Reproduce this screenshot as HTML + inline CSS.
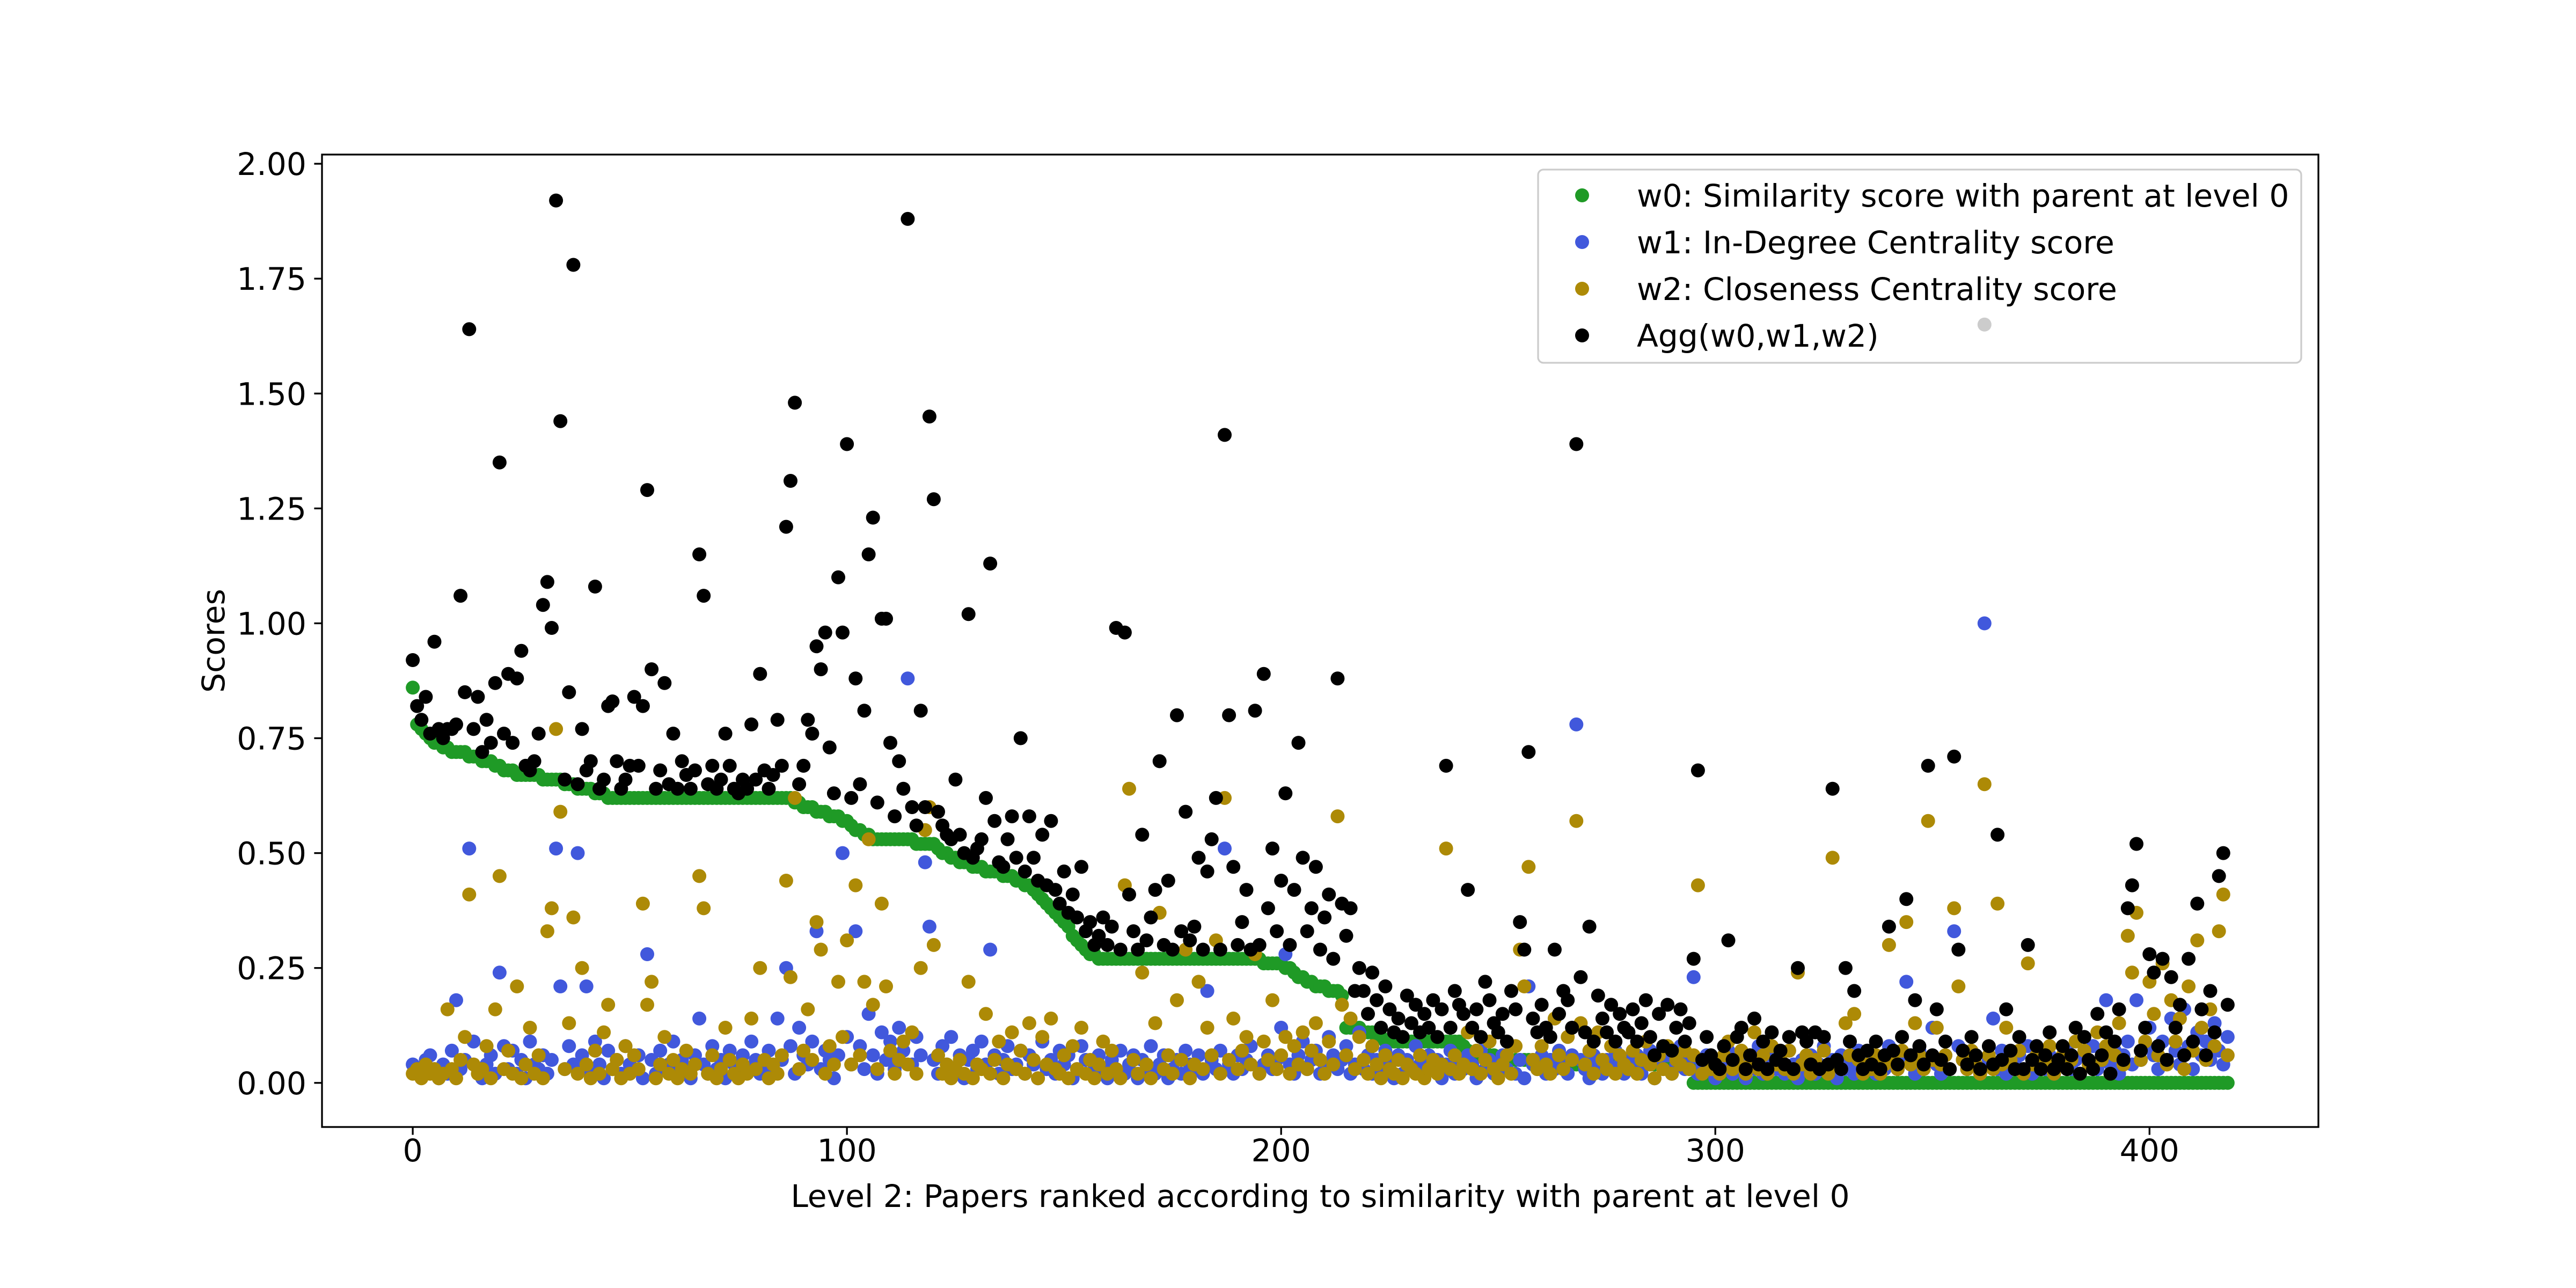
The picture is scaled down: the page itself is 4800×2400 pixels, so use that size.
<!DOCTYPE html>
<html><head><meta charset="utf-8"><style>
html,body{margin:0;padding:0;background:#fff;}
svg{display:block;font-family:"DejaVu Sans","Liberation Sans",sans-serif;}
</style></head><body>
<svg id="chart" width="4800" height="2400" viewBox="0 0 4800 2400" xmlns="http://www.w3.org/2000/svg">
<rect x="0" y="0" width="4800" height="2400" fill="#fff"/>
<g id="marks"></g>
<g id="axes"></g>
<g id="legend"></g>
</svg>
<script>
const xTicks=[0,100,200,300,400];
const yTicks=[0,0.25,0.5,0.75,1.0,1.25,1.5,1.75,2.0];
const yTickLabels=["0.00","0.25","0.50","0.75","1.00","1.25","1.50","1.75","2.00"];
const seriesNames=["w0: Similarity score with parent at level 0","w1: In-Degree Centrality score","w2: Closeness Centrality score","Agg(w0,w1,w2)"];
const w0=[.86,.78,.77,.76,.75,.74,.74,.73,.73,.72,.72,.72,.72,.71,.71,.71,.70,.70,.70,.69,
.69,.68,.68,.68,.67,.67,.67,.67,.67,.67,.66,.66,.66,.66,.66,.65,.65,.65,.64,.64,
.64,.64,.63,.63,.63,.62,.62,.62,.62,.62,.62,.62,.62,.62,.62,.62,.62,.62,.62,.62,
.62,.62,.62,.62,.62,.62,.62,.62,.62,.62,.62,.62,.62,.62,.62,.62,.62,.62,.62,.62,
.62,.62,.62,.62,.62,.62,.62,.62,.61,.61,.60,.60,.60,.59,.59,.59,.58,.58,.58,.57,
.57,.56,.55,.55,.54,.54,.53,.53,.53,.53,.53,.53,.53,.53,.53,.53,.52,.52,.52,.52,
.52,.51,.50,.50,.49,.49,.48,.48,.48,.47,.47,.47,.46,.46,.46,.46,.45,.45,.45,.44,
.44,.43,.43,.42,.41,.40,.39,.38,.37,.36,.35,.34,.32,.31,.30,.29,.28,.28,.27,.27,
.27,.27,.27,.27,.27,.27,.27,.27,.27,.27,.27,.27,.27,.27,.27,.27,.27,.27,.27,.27,
.27,.27,.27,.27,.27,.27,.27,.27,.27,.27,.27,.27,.27,.27,.27,.27,.26,.26,.26,.26,
.26,.25,.25,.24,.23,.23,.22,.22,.21,.21,.21,.20,.20,.20,.19,.12,.12,.12,.12,.11,
.11,.11,.10,.10,.09,.09,.09,.09,.09,.09,.09,.09,.09,.09,.09,.09,.09,.09,.09,.09,
.09,.09,.08,.07,.06,.06,.06,.06,.06,.06,.05,.05,.05,.05,.05,.05,.05,.05,.05,.05,
.05,.05,.05,.05,.05,.04,.04,.04,.04,.04,.04,.04,.04,.04,.04,.04,.04,.04,.04,.04,
.04,.04,.04,.04,.04,.04,.04,.04,.04,.04,.04,.04,.04,.04,.04,0,0,0,0,0,
0,0,0,0,0,0,0,0,0,0,0,0,0,0,0,0,0,0,0,0,
0,0,0,0,0,0,0,0,0,0,0,0,0,0,0,0,0,0,0,0,
0,0,0,0,0,0,0,0,0,0,0,0,0,0,0,0,0,0,0,0,
0,0,0,0,0,0,0,0,0,0,0,0,0,0,0,0,0,0,0,0,
0,0,0,0,0,0,0,0,0,0,0,0,0,0,0,0,0,0,0,0,
0,0,0,0,0,0,0,0,0,0,0,0,0,0,0,0,0,0,0];
const w1=[.04,.03,.02,.05,.06,.03,.01,.04,.02,.07,.18,.03,.05,.51,.09,.03,.01,.04,.06,.02,
.24,.08,.03,.07,.02,.05,.01,.09,.04,.03,.06,.02,.05,.51,.21,.03,.08,.04,.50,.06,
.21,.02,.09,.04,.01,.07,.03,.05,.02,.08,.04,.03,.06,.01,.28,.05,.02,.07,.03,.04,
.09,.02,.05,.03,.01,.06,.14,.04,.02,.08,.03,.05,.01,.07,.04,.02,.06,.03,.09,.05,
.02,.04,.07,.03,.14,.05,.25,.08,.02,.12,.06,.04,.09,.33,.03,.07,.05,.01,.06,.50,
.10,.04,.33,.08,.03,.15,.06,.02,.11,.05,.09,.03,.12,.07,.88,.04,.10,.06,.48,.34,
.05,.02,.08,.04,.10,.03,.06,.01,.05,.07,.03,.09,.04,.29,.06,.02,.05,.08,.03,.04,
.07,.02,.06,.04,.01,.09,.03,.05,.02,.07,.04,.06,.01,.03,.08,.05,.02,.04,.06,.03,
.01,.05,.03,.07,.02,.04,.06,.01,.05,.03,.08,.02,.04,.06,.01,.03,.05,.02,.07,.04,
.03,.06,.02,.20,.05,.03,.07,.51,.04,.02,.06,.03,.05,.08,.29,.02,.04,.06,.03,.05,
.12,.28,.04,.02,.06,.09,.03,.05,.07,.02,.04,.10,.06,.03,.05,.08,.02,.04,.11,.03,
.06,.02,.05,.03,.07,.04,.01,.06,.02,.05,.03,.08,.04,.02,.06,.03,.05,.01,.04,.07,
.02,.05,.03,.06,.04,.01,.07,.03,.05,.02,.04,.06,.03,.08,.02,.05,.01,.21,.04,.03,
.06,.02,.05,.03,.07,.04,.02,.06,.78,.05,.03,.01,.06,.04,.02,.05,.03,.07,.04,.02,
.05,.03,.06,.02,.04,.07,.01,.05,.03,.06,.02,.04,.08,.03,.05,.23,.02,.04,.06,.03,
.01,.05,.03,.07,.02,.04,.06,.01,.05,.03,.08,.02,.04,.06,.03,.05,.02,.07,.04,.01,
.05,.03,.06,.02,.04,.08,.03,.05,.01,.06,.03,.04,.02,.07,.05,.03,.06,.02,.04,.03,
.08,.05,.03,.06,.22,.04,.02,.07,.03,.05,.12,.04,.02,.06,.03,.33,.08,.05,.03,.06,
.04,.02,1.00,.05,.14,.03,.07,.02,.05,.04,.06,.03,.08,.02,.05,.04,.03,.06,.02,.05,
.04,.07,.03,.05,.02,.06,.04,.08,.03,.05,.18,.04,.07,.02,.06,.09,.04,.18,.05,.08,
.12,.06,.03,.09,.05,.14,.07,.04,.16,.08,.03,.11,.06,.09,.05,.13,.07,.04,.10];
const w2=[.02,.03,.01,.04,.02,.03,.01,.02,.16,.03,.01,.05,.10,.41,.04,.02,.03,.08,.01,.16,
.45,.03,.07,.02,.21,.01,.04,.12,.02,.06,.01,.33,.38,.77,.59,.03,.13,.36,.02,.25,
.04,.01,.07,.02,.11,.17,.03,.05,.01,.08,.02,.06,.03,.39,.17,.22,.01,.04,.10,.02,
.05,.01,.03,.07,.02,.04,.45,.38,.02,.06,.01,.03,.12,.05,.02,.01,.04,.02,.14,.03,
.25,.05,.01,.04,.02,.06,.44,.23,.62,.03,.07,.16,.05,.35,.29,.02,.08,.04,.22,.10,
.31,.04,.43,.06,.22,.53,.17,.03,.39,.21,.07,.02,.05,.09,.04,.11,.02,.25,.55,.60,
.30,.06,.02,.04,.01,.03,.05,.02,.22,.01,.04,.03,.15,.02,.05,.09,.01,.04,.11,.03,
.07,.02,.13,.05,.01,.10,.04,.14,.03,.02,.06,.01,.08,.03,.12,.02,.05,.01,.04,.09,
.02,.07,.03,.01,.43,.64,.05,.02,.24,.04,.01,.13,.37,.03,.06,.02,.18,.05,.29,.01,
.04,.22,.03,.12,.06,.31,.02,.62,.05,.14,.03,.07,.10,.04,.28,.02,.09,.05,.18,.03,
.06,.10,.02,.08,.04,.11,.03,.07,.13,.05,.02,.09,.04,.58,.17,.06,.14,.03,.10,.05,
.02,.08,.04,.01,.06,.03,.02,.05,.01,.04,.03,.02,.06,.01,.03,.05,.02,.04,.51,.03,
.06,.02,.04,.11,.03,.07,.02,.05,.09,.03,.01,.04,.06,.02,.08,.29,.21,.47,.05,.03,
.08,.04,.02,.14,.06,.03,.10,.05,.57,.13,.04,.07,.02,.11,.05,.03,.08,.02,.06,.04,
.03,.07,.02,.05,.09,.04,.01,.06,.03,.08,.02,.05,.04,.07,.03,.06,.43,.02,.05,.03,
.04,.02,.06,.09,.03,.05,.07,.02,.04,.11,.03,.06,.02,.08,.04,.05,.03,.07,.02,.24,
.04,.06,.02,.05,.03,.07,.02,.49,.04,.03,.13,.06,.15,.05,.02,.04,.03,.06,.02,.04,
.30,.05,.03,.07,.35,.04,.13,.06,.03,.57,.05,.12,.04,.06,.03,.38,.21,.05,.03,.07,
.04,.02,.65,.06,.03,.39,.04,.12,.05,.03,.07,.02,.26,.04,.06,.03,.05,.08,.02,.04,
.06,.03,.05,.09,.02,.07,.04,.03,.11,.05,.08,.02,.06,.13,.04,.32,.24,.37,.05,.09,
.22,.15,.06,.26,.04,.18,.09,.14,.03,.21,.07,.31,.12,.05,.16,.08,.33,.41,.06];
const agg=[.92,.82,.79,.84,.76,.96,.77,.75,.77,.77,.78,1.06,.85,1.64,.77,.84,.72,.79,.74,.87,
1.35,.76,.89,.74,.88,.94,.69,.68,.70,.76,1.04,1.09,.99,1.92,1.44,.66,.85,1.78,.65,.77,
.68,.70,1.08,.64,.66,.82,.83,.70,.64,.66,.69,.84,.69,.82,1.29,.90,.64,.68,.87,.65,
.76,.64,.70,.67,.64,.68,1.15,1.06,.65,.69,.64,.66,.76,.69,.64,.63,.66,.64,.78,.66,
.89,.68,.64,.67,.79,.69,1.21,1.31,1.48,.65,.69,.79,.76,.95,.90,.98,.73,.63,1.10,.98,
1.39,.62,.88,.65,.81,1.15,1.23,.61,1.01,1.01,.74,.58,.70,.64,1.88,.60,.56,.81,.60,1.45,
1.27,.59,.56,.54,.53,.66,.54,.50,1.02,.49,.51,.53,.62,1.13,.57,.48,.47,.53,.58,.49,
.75,.46,.58,.49,.44,.54,.43,.57,.42,.39,.46,.37,.41,.36,.47,.33,.35,.30,.32,.36,
.30,.34,.99,.29,.98,.41,.33,.29,.54,.31,.36,.42,.70,.30,.44,.29,.80,.33,.59,.31,
.34,.49,.29,.46,.53,.62,.29,1.41,.80,.47,.30,.35,.42,.29,.81,.30,.89,.38,.51,.33,
.44,.63,.30,.42,.74,.49,.33,.38,.47,.29,.36,.41,.27,.88,.39,.32,.38,.20,.25,.20,
.15,.24,.18,.12,.21,.16,.11,.14,.10,.19,.13,.17,.11,.15,.12,.18,.10,.16,.69,.12,
.20,.17,.15,.42,.12,.16,.10,.22,.18,.13,.11,.15,.09,.20,.16,.35,.29,.72,.14,.11,
.17,.12,.10,.29,.15,.20,.18,.12,1.39,.23,.11,.34,.09,.19,.14,.11,.17,.09,.15,.12,
.11,.16,.09,.13,.18,.10,.06,.15,.08,.17,.07,.12,.16,.09,.13,.27,.68,.05,.10,.06,
.04,.03,.08,.31,.05,.10,.12,.03,.06,.14,.04,.09,.03,.11,.05,.07,.04,.10,.03,.25,
.11,.09,.04,.11,.03,.10,.04,.64,.05,.03,.25,.09,.20,.06,.03,.07,.04,.09,.03,.06,
.34,.07,.04,.10,.40,.06,.18,.08,.04,.69,.06,.16,.05,.09,.03,.71,.29,.07,.04,.10,
.06,.03,1.65,.08,.04,.54,.05,.16,.07,.03,.10,.03,.30,.05,.08,.03,.06,.11,.03,.05,
.08,.03,.06,.12,.02,.10,.05,.03,.15,.06,.11,.02,.09,.16,.05,.38,.43,.52,.07,.12,
.28,.24,.08,.27,.05,.23,.12,.17,.06,.27,.09,.39,.16,.06,.20,.11,.45,.50,.17];

const NS="http://www.w3.org/2000/svg";
const AX={left:600,right:4320,top:288,bottom:2100};
const XMIN=-20.9,XMAX=438.9,YMIN=-0.096,YMAX=2.02;
const FS=58.3;
function xScale(v){return AX.left+(v-XMIN)/(XMAX-XMIN)*(AX.right-AX.left);}
function yScale(v){return AX.bottom-(v-YMIN)/(YMAX-YMIN)*(AX.bottom-AX.top);}
function mk(tag,attrs,parent){const e=document.createElementNS(NS,tag);for(const k in attrs)e.setAttribute(k,attrs[k]);parent.appendChild(e);return e;}

const marks=document.getElementById('marks');
const seriesList=[[w0,'#1f9a26','w0'],[w1,'#4158dc','w1'],[w2,'#ad8a06','w2'],[agg,'#000000','agg']];
seriesList.forEach(function(s){
  const g=mk('g',{fill:s[1]},marks);
  
  
  s[0].forEach(function(v,i){
    const c=mk('circle',{cx:xScale(i).toFixed(1),cy:yScale(v).toFixed(1),r:13},g);
    
    
  });
});

const axes=document.getElementById('axes');
const frame=mk('rect',{x:AX.left,y:AX.top,width:AX.right-AX.left,height:AX.bottom-AX.top,fill:'none',stroke:'#000','stroke-width':3.3},axes);


xTicks.forEach(function(t){
  const x=xScale(t);
  const l=mk('line',{x1:x,x2:x,y1:AX.bottom,y2:AX.bottom+14.6,stroke:'#000','stroke-width':3.3},axes);
  
  
  const tx=mk('text',{x:x,y:2164,'font-size':FS,'text-anchor':'middle',fill:'#000'},axes);
  tx.textContent=String(t);
  
  
});
yTicks.forEach(function(t,i){
  const y=yScale(t);
  const l=mk('line',{x1:AX.left-14.6,x2:AX.left,y1:y,y2:y,stroke:'#000','stroke-width':3.3},axes);
  
  
  const tx=mk('text',{x:AX.left-29,y:y+21,'font-size':FS,'text-anchor':'end',fill:'#000'},axes);
  tx.textContent=yTickLabels[i];
  
  
});
const xl=mk('text',{x:(AX.left+AX.right)/2,y:2249,'font-size':FS,'text-anchor':'middle',fill:'#000'},axes);
xl.textContent='Level 2: Papers ranked according to similarity with parent at level 0';


const yl=mk('text',{x:0,y:0,'font-size':FS,'text-anchor':'middle',fill:'#000',transform:'translate(418,'+((AX.top+AX.bottom)/2)+') rotate(-90)'},axes);
yl.textContent='Scores';



const leg=document.getElementById('legend');
const box=mk('rect',{x:2866,y:316,width:1422,height:360,rx:10,fill:'#fff','fill-opacity':0.8,stroke:'#cccccc','stroke-width':3.3},leg);


const rowsY=[364,451,538,625];
seriesList.forEach(function(s,i){
  const g=mk('g',{},leg);
  
  
  mk('circle',{cx:2948,cy:rowsY[i],r:13,fill:s[1]},g);
  const t=mk('text',{x:3050,y:rowsY[i]+21,'font-size':FS,fill:'#000'},g);
  t.textContent=seriesNames[i];
});
</script>
</body></html>
